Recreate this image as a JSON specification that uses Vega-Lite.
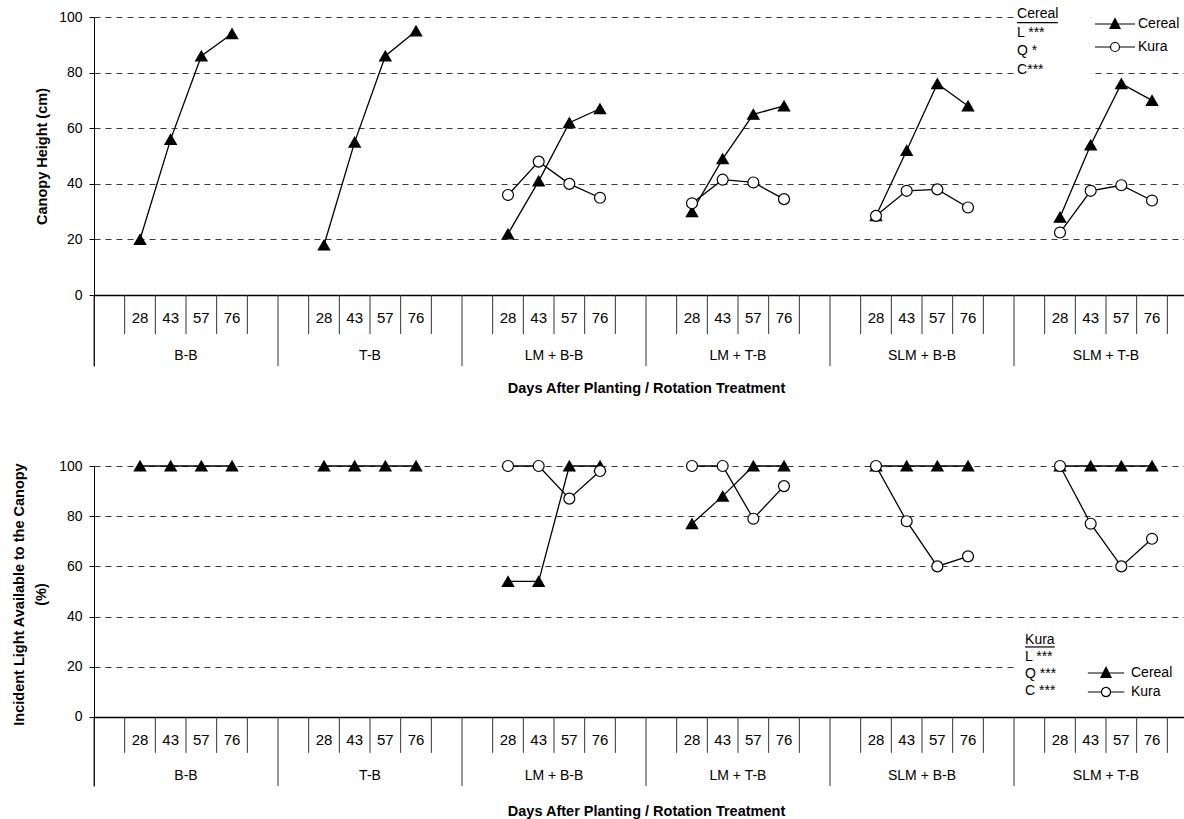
{
  "$schema": "https://vega.github.io/schema/vega-lite/v6.json",
  "autosize": {"type": "none"},
  "padding": {"left": 94, "top": 17, "right": 0, "bottom": 33},
  "params": [{"name": "height", "value": 769}],
  "background": "white",
  "bounds": "flush",
  "spacing": 100,
  "config": {"font": "Liberation Sans", "view": {"stroke": null}},
  "resolve": {"scale": {"y": "independent", "shape": "independent", "fill": "independent", "stroke": "independent"}},
  "datasets": {
    "slots": [
      {"slot": "B-B a", "treatment": "B-B", "day": "", "kind": "edge"},
      {"slot": "B-B 28", "treatment": "B-B", "day": "28", "kind": "day"},
      {"slot": "B-B 43", "treatment": "B-B", "day": "43", "kind": "day"},
      {"slot": "B-B 57", "treatment": "B-B", "day": "57", "kind": "day"},
      {"slot": "B-B 76", "treatment": "B-B", "day": "76", "kind": "day"},
      {"slot": "B-B z", "treatment": "B-B", "day": "", "kind": "end"},
      {"slot": "T-B a", "treatment": "T-B", "day": "", "kind": "edge"},
      {"slot": "T-B 28", "treatment": "T-B", "day": "28", "kind": "day"},
      {"slot": "T-B 43", "treatment": "T-B", "day": "43", "kind": "day"},
      {"slot": "T-B 57", "treatment": "T-B", "day": "57", "kind": "day"},
      {"slot": "T-B 76", "treatment": "T-B", "day": "76", "kind": "day"},
      {"slot": "T-B z", "treatment": "T-B", "day": "", "kind": "end"},
      {"slot": "LM + B-B a", "treatment": "LM + B-B", "day": "", "kind": "edge"},
      {"slot": "LM + B-B 28", "treatment": "LM + B-B", "day": "28", "kind": "day"},
      {"slot": "LM + B-B 43", "treatment": "LM + B-B", "day": "43", "kind": "day"},
      {"slot": "LM + B-B 57", "treatment": "LM + B-B", "day": "57", "kind": "day"},
      {"slot": "LM + B-B 76", "treatment": "LM + B-B", "day": "76", "kind": "day"},
      {"slot": "LM + B-B z", "treatment": "LM + B-B", "day": "", "kind": "end"},
      {"slot": "LM + T-B a", "treatment": "LM + T-B", "day": "", "kind": "edge"},
      {"slot": "LM + T-B 28", "treatment": "LM + T-B", "day": "28", "kind": "day"},
      {"slot": "LM + T-B 43", "treatment": "LM + T-B", "day": "43", "kind": "day"},
      {"slot": "LM + T-B 57", "treatment": "LM + T-B", "day": "57", "kind": "day"},
      {"slot": "LM + T-B 76", "treatment": "LM + T-B", "day": "76", "kind": "day"},
      {"slot": "LM + T-B z", "treatment": "LM + T-B", "day": "", "kind": "end"},
      {"slot": "SLM + B-B a", "treatment": "SLM + B-B", "day": "", "kind": "edge"},
      {"slot": "SLM + B-B 28", "treatment": "SLM + B-B", "day": "28", "kind": "day"},
      {"slot": "SLM + B-B 43", "treatment": "SLM + B-B", "day": "43", "kind": "day"},
      {"slot": "SLM + B-B 57", "treatment": "SLM + B-B", "day": "57", "kind": "day"},
      {"slot": "SLM + B-B 76", "treatment": "SLM + B-B", "day": "76", "kind": "day"},
      {"slot": "SLM + B-B z", "treatment": "SLM + B-B", "day": "", "kind": "end"},
      {"slot": "SLM + T-B a", "treatment": "SLM + T-B", "day": "", "kind": "edge"},
      {"slot": "SLM + T-B 28", "treatment": "SLM + T-B", "day": "28", "kind": "day"},
      {"slot": "SLM + T-B 43", "treatment": "SLM + T-B", "day": "43", "kind": "day"},
      {"slot": "SLM + T-B 57", "treatment": "SLM + T-B", "day": "57", "kind": "day"},
      {"slot": "SLM + T-B 76", "treatment": "SLM + T-B", "day": "76", "kind": "day"},
      {"slot": "SLM + T-B z", "treatment": "SLM + T-B", "day": "", "kind": "end"}
    ],
    "canopy": [
      {"treatment": "B-B", "slot": "B-B 28", "crop": "Cereal", "height": 20},
      {"treatment": "B-B", "slot": "B-B 43", "crop": "Cereal", "height": 56},
      {"treatment": "B-B", "slot": "B-B 57", "crop": "Cereal", "height": 86},
      {"treatment": "B-B", "slot": "B-B 76", "crop": "Cereal", "height": 94},
      {"treatment": "T-B", "slot": "T-B 28", "crop": "Cereal", "height": 18},
      {"treatment": "T-B", "slot": "T-B 43", "crop": "Cereal", "height": 55},
      {"treatment": "T-B", "slot": "T-B 57", "crop": "Cereal", "height": 86},
      {"treatment": "T-B", "slot": "T-B 76", "crop": "Cereal", "height": 95},
      {"treatment": "LM + B-B", "slot": "LM + B-B 28", "crop": "Cereal", "height": 22},
      {"treatment": "LM + B-B", "slot": "LM + B-B 43", "crop": "Cereal", "height": 41},
      {"treatment": "LM + B-B", "slot": "LM + B-B 57", "crop": "Cereal", "height": 62},
      {"treatment": "LM + B-B", "slot": "LM + B-B 76", "crop": "Cereal", "height": 67},
      {"treatment": "LM + T-B", "slot": "LM + T-B 28", "crop": "Cereal", "height": 30},
      {"treatment": "LM + T-B", "slot": "LM + T-B 43", "crop": "Cereal", "height": 49},
      {"treatment": "LM + T-B", "slot": "LM + T-B 57", "crop": "Cereal", "height": 65},
      {"treatment": "LM + T-B", "slot": "LM + T-B 76", "crop": "Cereal", "height": 68},
      {"treatment": "SLM + B-B", "slot": "SLM + B-B 28", "crop": "Cereal", "height": 28.5},
      {"treatment": "SLM + B-B", "slot": "SLM + B-B 43", "crop": "Cereal", "height": 52},
      {"treatment": "SLM + B-B", "slot": "SLM + B-B 57", "crop": "Cereal", "height": 76},
      {"treatment": "SLM + B-B", "slot": "SLM + B-B 76", "crop": "Cereal", "height": 68},
      {"treatment": "SLM + T-B", "slot": "SLM + T-B 28", "crop": "Cereal", "height": 28},
      {"treatment": "SLM + T-B", "slot": "SLM + T-B 43", "crop": "Cereal", "height": 54},
      {"treatment": "SLM + T-B", "slot": "SLM + T-B 57", "crop": "Cereal", "height": 76},
      {"treatment": "SLM + T-B", "slot": "SLM + T-B 76", "crop": "Cereal", "height": 70},
      {"treatment": "LM + B-B", "slot": "LM + B-B 28", "crop": "Kura", "height": 36},
      {"treatment": "LM + B-B", "slot": "LM + B-B 43", "crop": "Kura", "height": 48},
      {"treatment": "LM + B-B", "slot": "LM + B-B 57", "crop": "Kura", "height": 40},
      {"treatment": "LM + B-B", "slot": "LM + B-B 76", "crop": "Kura", "height": 35},
      {"treatment": "LM + T-B", "slot": "LM + T-B 28", "crop": "Kura", "height": 33},
      {"treatment": "LM + T-B", "slot": "LM + T-B 43", "crop": "Kura", "height": 41.5},
      {"treatment": "LM + T-B", "slot": "LM + T-B 57", "crop": "Kura", "height": 40.5},
      {"treatment": "LM + T-B", "slot": "LM + T-B 76", "crop": "Kura", "height": 34.5},
      {"treatment": "SLM + B-B", "slot": "SLM + B-B 28", "crop": "Kura", "height": 28.5},
      {"treatment": "SLM + B-B", "slot": "SLM + B-B 43", "crop": "Kura", "height": 37.5},
      {"treatment": "SLM + B-B", "slot": "SLM + B-B 57", "crop": "Kura", "height": 38},
      {"treatment": "SLM + B-B", "slot": "SLM + B-B 76", "crop": "Kura", "height": 31.5},
      {"treatment": "SLM + T-B", "slot": "SLM + T-B 28", "crop": "Kura", "height": 22.5},
      {"treatment": "SLM + T-B", "slot": "SLM + T-B 43", "crop": "Kura", "height": 37.5},
      {"treatment": "SLM + T-B", "slot": "SLM + T-B 57", "crop": "Kura", "height": 39.5},
      {"treatment": "SLM + T-B", "slot": "SLM + T-B 76", "crop": "Kura", "height": 34}
    ],
    "light": [
      {"treatment": "B-B", "slot": "B-B 28", "crop": "Cereal", "light": 100},
      {"treatment": "B-B", "slot": "B-B 43", "crop": "Cereal", "light": 100},
      {"treatment": "B-B", "slot": "B-B 57", "crop": "Cereal", "light": 100},
      {"treatment": "B-B", "slot": "B-B 76", "crop": "Cereal", "light": 100},
      {"treatment": "T-B", "slot": "T-B 28", "crop": "Cereal", "light": 100},
      {"treatment": "T-B", "slot": "T-B 43", "crop": "Cereal", "light": 100},
      {"treatment": "T-B", "slot": "T-B 57", "crop": "Cereal", "light": 100},
      {"treatment": "T-B", "slot": "T-B 76", "crop": "Cereal", "light": 100},
      {"treatment": "LM + B-B", "slot": "LM + B-B 28", "crop": "Cereal", "light": 54},
      {"treatment": "LM + B-B", "slot": "LM + B-B 43", "crop": "Cereal", "light": 54},
      {"treatment": "LM + B-B", "slot": "LM + B-B 57", "crop": "Cereal", "light": 100},
      {"treatment": "LM + B-B", "slot": "LM + B-B 76", "crop": "Cereal", "light": 100},
      {"treatment": "LM + T-B", "slot": "LM + T-B 28", "crop": "Cereal", "light": 77},
      {"treatment": "LM + T-B", "slot": "LM + T-B 43", "crop": "Cereal", "light": 88},
      {"treatment": "LM + T-B", "slot": "LM + T-B 57", "crop": "Cereal", "light": 100},
      {"treatment": "LM + T-B", "slot": "LM + T-B 76", "crop": "Cereal", "light": 100},
      {"treatment": "SLM + B-B", "slot": "SLM + B-B 28", "crop": "Cereal", "light": 100},
      {"treatment": "SLM + B-B", "slot": "SLM + B-B 43", "crop": "Cereal", "light": 100},
      {"treatment": "SLM + B-B", "slot": "SLM + B-B 57", "crop": "Cereal", "light": 100},
      {"treatment": "SLM + B-B", "slot": "SLM + B-B 76", "crop": "Cereal", "light": 100},
      {"treatment": "SLM + T-B", "slot": "SLM + T-B 28", "crop": "Cereal", "light": 100},
      {"treatment": "SLM + T-B", "slot": "SLM + T-B 43", "crop": "Cereal", "light": 100},
      {"treatment": "SLM + T-B", "slot": "SLM + T-B 57", "crop": "Cereal", "light": 100},
      {"treatment": "SLM + T-B", "slot": "SLM + T-B 76", "crop": "Cereal", "light": 100},
      {"treatment": "LM + B-B", "slot": "LM + B-B 28", "crop": "Kura", "light": 100},
      {"treatment": "LM + B-B", "slot": "LM + B-B 43", "crop": "Kura", "light": 100},
      {"treatment": "LM + B-B", "slot": "LM + B-B 57", "crop": "Kura", "light": 87},
      {"treatment": "LM + B-B", "slot": "LM + B-B 76", "crop": "Kura", "light": 98},
      {"treatment": "LM + T-B", "slot": "LM + T-B 28", "crop": "Kura", "light": 100},
      {"treatment": "LM + T-B", "slot": "LM + T-B 43", "crop": "Kura", "light": 100},
      {"treatment": "LM + T-B", "slot": "LM + T-B 57", "crop": "Kura", "light": 79},
      {"treatment": "LM + T-B", "slot": "LM + T-B 76", "crop": "Kura", "light": 92},
      {"treatment": "SLM + B-B", "slot": "SLM + B-B 28", "crop": "Kura", "light": 100},
      {"treatment": "SLM + B-B", "slot": "SLM + B-B 43", "crop": "Kura", "light": 78},
      {"treatment": "SLM + B-B", "slot": "SLM + B-B 57", "crop": "Kura", "light": 60},
      {"treatment": "SLM + B-B", "slot": "SLM + B-B 76", "crop": "Kura", "light": 64},
      {"treatment": "SLM + T-B", "slot": "SLM + T-B 28", "crop": "Kura", "light": 100},
      {"treatment": "SLM + T-B", "slot": "SLM + T-B 43", "crop": "Kura", "light": 77},
      {"treatment": "SLM + T-B", "slot": "SLM + T-B 57", "crop": "Kura", "light": 60},
      {"treatment": "SLM + T-B", "slot": "SLM + T-B 76", "crop": "Kura", "light": 71}
    ]
  },
  "vconcat": [
    {
      "width": 1090,
      "height": 349,
      "layer": [
        {
          "data": {"values": [{}]},
          "mark": {"type": "rect", "fill": "white"},
          "encoding": {
            "x": {"datum": "SLM + T-B a", "type": "nominal", "bandPosition": 0},
            "x2": {"datum": "SLM + T-B 43"},
            "y": {"datum": 104, "type": "quantitative"},
            "y2": {"datum": 76}
          }
        },
        {
          "data": {"name": "slots"},
          "transform": [{"filter": "datum.kind !== 'edge'"}],
          "mark": {"type": "rule", "color": "#333", "strokeWidth": 1},
          "encoding": {
            "x": {"field": "slot", "type": "nominal", "bandPosition": 0},
            "y": {"datum": 0, "type": "quantitative"},
            "y2": {"datum": -14}
          }
        },
        {
          "data": {"name": "slots"},
          "transform": [{"filter": "datum.kind === 'edge'"}],
          "mark": {"type": "rule", "color": "#333", "strokeWidth": 1},
          "encoding": {
            "x": {"field": "slot", "type": "nominal", "bandPosition": 0},
            "y": {"datum": 0, "type": "quantitative"},
            "y2": {"datum": -25.5}
          }
        },
        {
          "data": {"name": "slots"},
          "transform": [{"filter": "datum.kind === 'day'"}],
          "mark": {"type": "text", "fontSize": 15, "color": "black", "baseline": "middle"},
          "encoding": {
            "x": {"field": "slot", "type": "nominal"},
            "y": {"datum": -8.3, "type": "quantitative"},
            "text": {"field": "day"}
          }
        },
        {
          "data": {"name": "slots"},
          "transform": [{"filter": "datum.day === '57'"}],
          "mark": {"type": "text", "fontSize": 14, "color": "black", "baseline": "middle"},
          "encoding": {
            "x": {"field": "slot", "type": "nominal", "bandPosition": 0},
            "y": {"datum": -21.8, "type": "quantitative"},
            "text": {"field": "treatment"}
          }
        },
        {
          "data": {"values": [{}]},
          "mark": {"type": "text", "fontSize": 14, "color": "black", "align": "left", "baseline": "middle", "lineHeight": 18.7},
          "encoding": {
            "x": {"datum": "SLM + T-B a", "type": "nominal", "bandPosition": 0.1},
            "y": {"datum": 101.1, "type": "quantitative"},
            "text": {"value": ["Cereal", "L ***", "Q *", "C***"]}
          }
        },
        {
          "data": {"values": [{}]},
          "mark": {"type": "rule", "color": "black", "strokeWidth": 1.2},
          "encoding": {
            "x": {"datum": "SLM + T-B a", "type": "nominal", "bandPosition": 0.1},
            "x2": {"datum": "SLM + T-B 28", "bandPosition": 0.43},
            "y": {"datum": 98, "type": "quantitative"}
          }
        },
        {
          "data": {"name": "canopy"},
          "mark": {"type": "line", "color": "black", "strokeWidth": 1.3},
          "encoding": {
            "x": {
              "field": "slot", "type": "nominal",
              "scale": {"type": "band", "domain": ["B-B a","B-B 28","B-B 43","B-B 57","B-B 76","B-B z","T-B a","T-B 28","T-B 43","T-B 57","T-B 76","T-B z","LM + B-B a","LM + B-B 28","LM + B-B 43","LM + B-B 57","LM + B-B 76","LM + B-B z","LM + T-B a","LM + T-B 28","LM + T-B 43","LM + T-B 57","LM + T-B 76","LM + T-B z","SLM + B-B a","SLM + B-B 28","SLM + B-B 43","SLM + B-B 57","SLM + B-B 76","SLM + B-B z","SLM + T-B a","SLM + T-B 28","SLM + T-B 43","SLM + T-B 57","SLM + T-B 76","SLM + T-B z"], "range": [0, 1104], "paddingInner": 0, "paddingOuter": 0},
              "axis": {"labels": false, "ticks": false, "domain": false, "grid": false, "title": "Days After Planting / Rotation Treatment", "titleFontSize": 14.5, "titleFontWeight": "bold", "titleColor": "black", "titleX": 552, "titleY": 22, "titleAlign": "center", "titleBaseline": "middle"}
            },
            "y": {
              "field": "height", "type": "quantitative",
              "scale": {"domain": [-25.5, 100], "nice": false, "zero": false},
              "axis": {"title": "Canopy Height (cm)", "values": [0, 20, 40, 60, 80, 100], "grid": true,
                "gridColor": {"condition": {"test": "datum.value === 0", "value": "black"}, "value": "#222"},
                "gridWidth": {"condition": {"test": "datum.value === 0", "value": 1.5}, "value": 0.9},
                "gridDash": {"condition": {"test": "datum.value === 0", "value": []}, "value": [6, 5]},
                "domainColor": "black", "domainWidth": 1, "tickColor": "black", "tickSize": 5,
                "labelFontSize": 14, "labelColor": "black", "labelPadding": 7,
                "titleFontSize": 14.5, "titleFontWeight": "bold", "titleColor": "black", "titleAngle": 270,
                "titleX": -52, "titleY": 139, "titleAlign": "center", "titleBaseline": "middle"}
            },
            "detail": [{"field": "treatment"}, {"field": "crop"}]
          }
        },
        {
          "data": {"name": "canopy"},
          "transform": [{"filter": "datum.crop === 'Cereal'"}],
          "mark": {"type": "point", "shape": "triangle-up", "filled": true, "fill": "black", "stroke": "black", "strokeWidth": 1.2, "size": 130, "opacity": 1},
          "encoding": {
            "x": {"field": "slot", "type": "nominal"},
            "y": {"field": "height", "type": "quantitative"}
          }
        },
        {
          "data": {"name": "canopy"},
          "transform": [{"filter": "datum.crop === 'Kura'"}],
          "mark": {"type": "point", "shape": "circle", "filled": true, "fill": "white", "stroke": "black", "strokeWidth": 1.2, "size": 120, "opacity": 1},
          "encoding": {
            "x": {"field": "slot", "type": "nominal"},
            "y": {"field": "height", "type": "quantitative"}
          }
        },
        {
          "data": {"name": "canopy"},
          "mark": {"type": "point", "filled": true, "strokeWidth": 1.2, "opacity": 0},
          "encoding": {
            "x": {"field": "slot", "type": "nominal"},
            "y": {"field": "height", "type": "quantitative"},
            "shape": {"field": "crop", "type": "nominal",
              "scale": {"domain": ["Cereal", "Kura"], "range": ["M-2,0H2M-0.5,0.45L0.5,0.45L0,-0.55Z", "M-2,0H-0.45M0.45,0H2M0.45,0A0.45,0.45,0,1,1,-0.45,0A0.45,0.45,0,1,1,0.45,0Z"]},
              "legend": {"title": null, "orient": "none", "legendX": 1000, "legendY": -14, "fillColor": "white", "padding": 10, "symbolSize": 400, "symbolOpacity": 1, "symbolStrokeWidth": 1.2, "labelFontSize": 14, "labelColor": "black", "labelOffset": 12, "rowPadding": 5}},
            "fill": {"field": "crop", "type": "nominal",
              "scale": {"domain": ["Cereal", "Kura"], "range": ["black", "white"]},
              "legend": {"title": null, "orient": "none", "legendX": 1000, "legendY": -14, "fillColor": "white", "padding": 10, "symbolSize": 400, "symbolOpacity": 1, "symbolStrokeWidth": 1.2, "labelFontSize": 14, "labelColor": "black", "labelOffset": 12, "rowPadding": 5}},
            "stroke": {"field": "crop", "type": "nominal",
              "scale": {"domain": ["Cereal", "Kura"], "range": ["black", "black"]},
              "legend": {"title": null, "orient": "none", "legendX": 1000, "legendY": -14, "fillColor": "white", "padding": 10, "symbolSize": 400, "symbolOpacity": 1, "symbolStrokeWidth": 1.2, "labelFontSize": 14, "labelColor": "black", "labelOffset": 12, "rowPadding": 5}}
          }
        }
      ]
    },
    {
      "width": 1090,
      "height": 320,
      "layer": [
        {
          "data": {"values": [{}]},
          "mark": {"type": "rect", "fill": "white"},
          "encoding": {
            "x": {"datum": "SLM + T-B a", "type": "nominal", "bandPosition": 0},
            "x2": {"datum": "SLM + T-B 43"},
            "y": {"datum": 34, "type": "quantitative"},
            "y2": {"datum": 6}
          }
        },
        {
          "data": {"name": "slots"},
          "transform": [{"filter": "datum.kind !== 'edge'"}],
          "mark": {"type": "rule", "color": "#333", "strokeWidth": 1},
          "encoding": {
            "x": {"field": "slot", "type": "nominal", "bandPosition": 0},
            "y": {"datum": 0, "type": "quantitative"},
            "y2": {"datum": -14.3}
          }
        },
        {
          "data": {"name": "slots"},
          "transform": [{"filter": "datum.kind === 'edge'"}],
          "mark": {"type": "rule", "color": "#333", "strokeWidth": 1},
          "encoding": {
            "x": {"field": "slot", "type": "nominal", "bandPosition": 0},
            "y": {"datum": 0, "type": "quantitative"},
            "y2": {"datum": -27.5}
          }
        },
        {
          "data": {"name": "slots"},
          "transform": [{"filter": "datum.kind === 'day'"}],
          "mark": {"type": "text", "fontSize": 15, "color": "black", "baseline": "middle"},
          "encoding": {
            "x": {"field": "slot", "type": "nominal"},
            "y": {"datum": -9.2, "type": "quantitative"},
            "text": {"field": "day"}
          }
        },
        {
          "data": {"name": "slots"},
          "transform": [{"filter": "datum.day === '57'"}],
          "mark": {"type": "text", "fontSize": 14, "color": "black", "baseline": "middle"},
          "encoding": {
            "x": {"field": "slot", "type": "nominal", "bandPosition": 0},
            "y": {"datum": -23.6, "type": "quantitative"},
            "text": {"field": "treatment"}
          }
        },
        {
          "data": {"values": [{}]},
          "mark": {"type": "text", "fontSize": 14, "color": "black", "align": "left", "baseline": "middle", "lineHeight": 17},
          "encoding": {
            "x": {"datum": "SLM + T-B a", "type": "nominal", "bandPosition": 0.36},
            "y": {"datum": 30.7, "type": "quantitative"},
            "text": {"value": ["Kura", "L ***", "Q ***", "C ***"]}
          }
        },
        {
          "data": {"values": [{}]},
          "mark": {"type": "rule", "color": "black", "strokeWidth": 1.2},
          "encoding": {
            "x": {"datum": "SLM + T-B a", "type": "nominal", "bandPosition": 0.36},
            "x2": {"datum": "SLM + T-B 28", "bandPosition": 0.33},
            "y": {"datum": 27.9, "type": "quantitative"}
          }
        },
        {
          "data": {"name": "light"},
          "mark": {"type": "line", "color": "black", "strokeWidth": 1.3},
          "encoding": {
            "x": {
              "field": "slot", "type": "nominal",
              "scale": {"type": "band", "domain": ["B-B a","B-B 28","B-B 43","B-B 57","B-B 76","B-B z","T-B a","T-B 28","T-B 43","T-B 57","T-B 76","T-B z","LM + B-B a","LM + B-B 28","LM + B-B 43","LM + B-B 57","LM + B-B 76","LM + B-B z","LM + T-B a","LM + T-B 28","LM + T-B 43","LM + T-B 57","LM + T-B 76","LM + T-B z","SLM + B-B a","SLM + B-B 28","SLM + B-B 43","SLM + B-B 57","SLM + B-B 76","SLM + B-B z","SLM + T-B a","SLM + T-B 28","SLM + T-B 43","SLM + T-B 57","SLM + T-B 76","SLM + T-B z"], "range": [0, 1104], "paddingInner": 0, "paddingOuter": 0},
              "axis": {"labels": false, "ticks": false, "domain": false, "grid": false, "title": "Days After Planting / Rotation Treatment", "titleFontSize": 14.5, "titleFontWeight": "bold", "titleColor": "black", "titleX": 552, "titleY": 25, "titleAlign": "center", "titleBaseline": "middle"}
            },
            "y": {
              "field": "light", "type": "quantitative",
              "scale": {"domain": [-27.5, 100], "nice": false, "zero": false},
              "axis": {"title": ["Incident Light Available to the Canopy", "(%)"], "values": [0, 20, 40, 60, 80, 100], "grid": true,
                "gridColor": {"condition": {"test": "datum.value === 0", "value": "black"}, "value": "#222"},
                "gridWidth": {"condition": {"test": "datum.value === 0", "value": 1.5}, "value": 0.9},
                "gridDash": {"condition": {"test": "datum.value === 0", "value": []}, "value": [6, 5]},
                "domainColor": "black", "domainWidth": 1, "tickColor": "black", "tickSize": 5,
                "labelFontSize": 14, "labelColor": "black", "labelPadding": 7,
                "titleFontSize": 14.5, "titleFontWeight": "bold", "titleColor": "black", "titleAngle": 270, "titleLineHeight": 22,
                "titleX": -75, "titleY": 128, "titleAlign": "center", "titleBaseline": "middle"}
            },
            "detail": [{"field": "treatment"}, {"field": "crop"}]
          }
        },
        {
          "data": {"name": "light"},
          "transform": [{"filter": "datum.crop === 'Cereal'"}],
          "mark": {"type": "point", "shape": "triangle-up", "filled": true, "fill": "black", "stroke": "black", "strokeWidth": 1.2, "size": 130, "opacity": 1},
          "encoding": {
            "x": {"field": "slot", "type": "nominal"},
            "y": {"field": "light", "type": "quantitative"}
          }
        },
        {
          "data": {"name": "light"},
          "transform": [{"filter": "datum.crop === 'Kura'"}],
          "mark": {"type": "point", "shape": "circle", "filled": true, "fill": "white", "stroke": "black", "strokeWidth": 1.2, "size": 120, "opacity": 1},
          "encoding": {
            "x": {"field": "slot", "type": "nominal"},
            "y": {"field": "light", "type": "quantitative"}
          }
        },
        {
          "data": {"name": "light"},
          "mark": {"type": "point", "filled": true, "strokeWidth": 1.2, "opacity": 0},
          "encoding": {
            "x": {"field": "slot", "type": "nominal"},
            "y": {"field": "light", "type": "quantitative"},
            "shape": {"field": "crop", "type": "nominal",
              "scale": {"domain": ["Cereal", "Kura"], "range": ["M-2.6,0H2.6M-0.72,0.62L0.72,0.62L0,-0.8Z", "M-2.6,0H-0.65M0.65,0H2.6M0.65,0A0.65,0.65,0,1,1,-0.65,0A0.65,0.65,0,1,1,0.65,0Z"]},
              "legend": {"title": null, "orient": "none", "legendX": 992, "legendY": 187, "fillColor": "white", "padding": 12, "symbolSize": 196, "symbolOpacity": 1, "symbolStrokeWidth": 1.2, "labelFontSize": 14, "labelColor": "black", "labelOffset": 17, "rowPadding": 4}},
            "fill": {"field": "crop", "type": "nominal",
              "scale": {"domain": ["Cereal", "Kura"], "range": ["black", "white"]},
              "legend": {"title": null, "orient": "none", "legendX": 992, "legendY": 187, "fillColor": "white", "padding": 12, "symbolSize": 196, "symbolOpacity": 1, "symbolStrokeWidth": 1.2, "labelFontSize": 14, "labelColor": "black", "labelOffset": 17, "rowPadding": 4}},
            "stroke": {"field": "crop", "type": "nominal",
              "scale": {"domain": ["Cereal", "Kura"], "range": ["black", "black"]},
              "legend": {"title": null, "orient": "none", "legendX": 992, "legendY": 187, "fillColor": "white", "padding": 12, "symbolSize": 196, "symbolOpacity": 1, "symbolStrokeWidth": 1.2, "labelFontSize": 14, "labelColor": "black", "labelOffset": 17, "rowPadding": 4}}
          }
        }
      ]
    }
  ]
}
